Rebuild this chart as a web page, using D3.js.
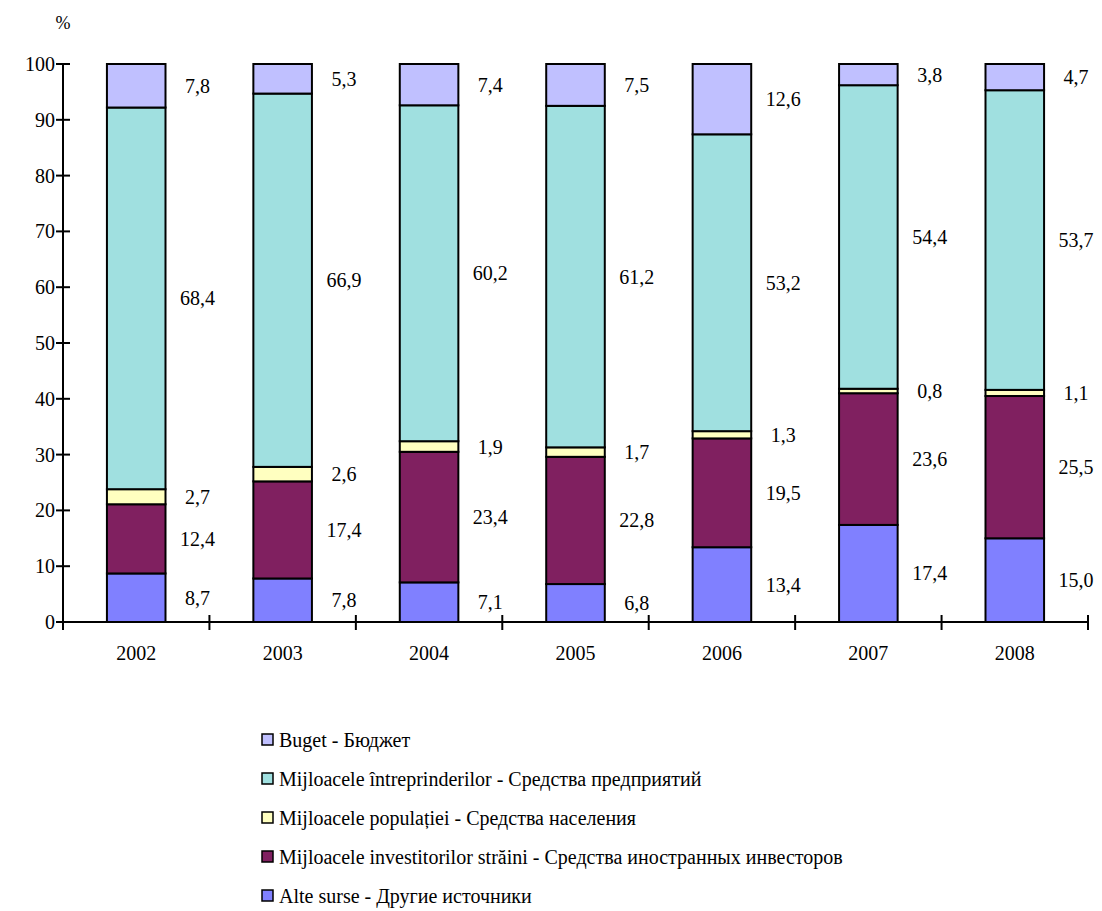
<!DOCTYPE html>
<html>
<head>
<meta charset="utf-8">
<script src="https://cdn.jsdelivr.net/npm/d3@7"></script>
<style>
  body { margin: 0; background: #fff; }
</style>
</head>
<body>
<svg id="chart" width="1102" height="911"></svg>
<script>
const years = ["2002", "2003", "2004", "2005", "2006", "2007", "2008"];
const alteSurse = [8.7, 7.8, 7.1, 6.8, 13.4, 17.4, 15.0];
const investitori = [12.4, 17.4, 23.4, 22.8, 19.5, 23.6, 25.5];
const populatiei = [2.7, 2.6, 1.9, 1.7, 1.3, 0.8, 1.1];
const intreprinderi = [68.4, 66.9, 60.2, 61.2, 53.2, 54.4, 53.7];
const buget = [7.8, 5.3, 7.4, 7.5, 12.6, 3.8, 4.7];
const yTicks = [0, 10, 20, 30, 40, 50, 60, 70, 80, 90, 100];

const seriesDefs = [
  { key: "alte", name: "Alte surse - Другие источники", values: alteSurse, color: "#8080FF" },
  { key: "inv", name: "Mijloacele investitorilor străini - Средства иностранных инвесторов", values: investitori, color: "#802060" },
  { key: "pop", name: "Mijloacele populației - Средства населения", values: populatiei, color: "#FFFFC0" },
  { key: "intr", name: "Mijloacele întreprinderilor - Средства предприятий", values: intreprinderi, color: "#A0E0E0" },
  { key: "buget", name: "Buget - Бюджет", values: buget, color: "#C0C0FF" }
];

const FONT = '"Liberation Serif"';

const rows = years.map((yr, i) => {
  const r = { year: yr };
  seriesDefs.forEach(s => r[s.key] = s.values[i]);
  return r;
});
const stacked = d3.stack().keys(seriesDefs.map(s => s.key))(rows);

const svg = d3.select("#chart");
const x = d3.scaleBand().domain(years).range([63, 1088]).paddingInner(0.6).paddingOuter(0.3);
const y = d3.scaleLinear().domain([0, 100]).range([622, 64]);
const fmt = v => d3.format(".1f")(v).replace(".", ",");
const fontSize = 20;

function txt() {
  return svg.append("text")
    .attr("font-family", "Liberation Serif")
    .style("font-family", FONT)
    .attr("fill", "#000");
}

// bars
stacked.forEach((layer, li) => {
  svg.selectAll(null).data(layer).enter().append("rect")
    .attr("x", d => x(d.data.year))
    .attr("width", x.bandwidth())
    .attr("y", d => y(d[1]))
    .attr("height", d => y(d[0]) - y(d[1]))
    .attr("fill", seriesDefs[li].color)
    .attr("stroke", "#000")
    .attr("stroke-width", 2);
});

// label backgrounds (white boxes) then label texts
stacked.forEach(layer => {
  layer.forEach(d => {
    const s = fmt(d[1] - d[0]);
    const w = (s.length - 1) * fontSize * 0.5 + fontSize * 0.25;
    const cx = x(d.data.year) + x.bandwidth() + 32;
    const cy = y((d[0] + d[1]) / 2);
    svg.append("rect")
      .attr("x", cx - w / 2 - 5).attr("y", cy - 18)
      .attr("width", w + 10).attr("height", 36)
      .attr("fill", "#fff");
  });
});
stacked.forEach(layer => {
  layer.forEach(d => {
    txt()
      .attr("x", x(d.data.year) + x.bandwidth() + 32)
      .attr("y", y((d[0] + d[1]) / 2))
      .attr("dy", "0.35em")
      .attr("text-anchor", "middle")
      .attr("font-size", fontSize)
      .text(fmt(d[1] - d[0]));
  });
});

// y axis
svg.append("line").attr("x1", 63).attr("x2", 63).attr("y1", y(100)).attr("y2", y(0))
  .attr("stroke", "#000").attr("stroke-width", 2);
yTicks.forEach(v => {
  svg.append("line").attr("x1", 56).attr("x2", 70).attr("y1", y(v)).attr("y2", y(v))
    .attr("stroke", "#000").attr("stroke-width", 2);
  txt().attr("x", 55).attr("y", y(v)).attr("dy", "0.35em")
    .attr("text-anchor", "end")
    .attr("font-size", fontSize)
    .text(v);
});
txt().attr("x", 63).attr("y", 23).attr("dy", "0.35em").attr("text-anchor", "middle")
  .attr("font-size", 18).text("%");

// x axis
const [r0, r1] = x.range();
svg.append("line").attr("x1", r0).attr("x2", r1).attr("y1", y(0)).attr("y2", y(0))
  .attr("stroke", "#000").attr("stroke-width", 2);
d3.range(years.length + 1).forEach(i => {
  const px = r0 + i * x.step();
  svg.append("line").attr("x1", px).attr("x2", px).attr("y1", y(0) - 7).attr("y2", y(0) + 8)
    .attr("stroke", "#000").attr("stroke-width", 2);
});
years.forEach(yr => {
  txt().attr("x", x(yr) + x.bandwidth() / 2).attr("y", 653).attr("dy", "0.35em")
    .attr("text-anchor", "middle")
    .attr("font-size", fontSize)
    .text(yr);
});

// legend
const legendOrder = seriesDefs.slice().reverse();
legendOrder.forEach((s, i) => {
  const ly = 740 + i * 39;
  svg.append("rect").attr("x", 262).attr("y", ly - 6).attr("width", 11).attr("height", 11)
    .attr("fill", s.color).attr("stroke", "#000").attr("stroke-width", 1.5);
  txt().attr("x", 279).attr("y", ly).attr("dy", "0.35em")
    .attr("font-size", 20)
    .text(s.name);
});
</script>
</body>
</html>
